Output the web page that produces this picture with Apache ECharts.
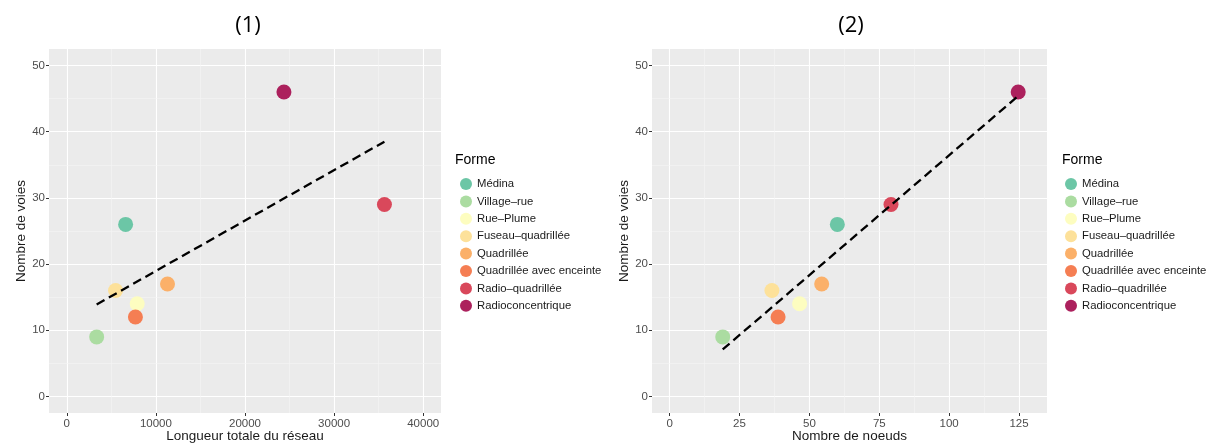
<!DOCTYPE html>
<html>
<head>
<meta charset="utf-8">
<script src="https://cdn.jsdelivr.net/npm/echarts@6/dist/echarts.min.js"></script>
<style>
html,body{margin:0;padding:0;background:#fff;}
#chart{width:1215px;height:443px;}
</style>
</head>
<body>
<div id="chart"></div>
<script>
// ---- data ----
const categories = ['Médina','Village–rue','Rue–Plume','Fuseau–quadrillée','Quadrillée','Quadrillée avec enceinte','Radio–quadrillée','Radioconcentrique'];
const colors = ['#6cc6a6','#abdca1','#fdfdc0','#fde19a','#fbb069','#f57e53','#d9485b','#ac215d'];
const longueur = [6600, 3350, 7900, 5470, 11300, 7700, 35650, 24370];
const noeuds = [60, 19, 46.5, 36.6, 54.4, 38.8, 79.2, 124.7];
const voies = [26, 9, 14, 16, 17, 12, 29, 46];
const trend1 = [[3350, 13.9], [35650, 38.5]];
const trend2 = [[19, 7.1], [124.7, 45.4]];
const xTicks1 = [0, 10000, 20000, 30000, 40000];
const xMinor1 = [5000, 15000, 25000, 35000];
const xTicks2 = [0, 25, 50, 75, 100, 125];
const xMinor2 = [12.5, 37.5, 62.5, 87.5, 112.5];
const yTicks = [0, 10, 20, 30, 40, 50];
const yMinor = [5, 15, 25, 35, 45];

const FONT = 'Liberation Sans, Arial, sans-serif';
const chart = echarts.init(document.getElementById('chart'), null, {renderer: 'canvas'});

function xAxis(idx, min, max, ticks, name, gap) {
  return {
    gridIndex: idx, type: 'value', min: min, max: max, position: 'bottom',
    name: name, nameLocation: 'middle', nameGap: gap, nameMoveOverlap: false,
    nameTextStyle: {fontFamily: FONT, fontSize: 13.5, color: '#1a1a1a'},
    axisLine: {show: false, onZero: false},
    axisTick: {show: true, length: 3, lineStyle: {color: '#333', width: 1}, customValues: ticks},
    axisLabel: {customValues: ticks, fontFamily: FONT, fontSize: 11.5, color: '#4d4d4d', margin: 5,
      formatter: v => String(v)},
    splitLine: {show: true, lineStyle: {color: '#ffffff', width: 1.1}}
  };
}
function yAxis(idx, name) {
  return {
    gridIndex: idx, type: 'value', min: -2.5, max: 52.5, position: 'left',
    name: name, nameLocation: 'middle', nameGap: 21,
    nameTextStyle: {fontFamily: FONT, fontSize: 13.5, color: '#1a1a1a'},
    axisLine: {show: false, onZero: false},
    axisTick: {show: true, length: 3, lineStyle: {color: '#333', width: 1}, customValues: yTicks},
    axisLabel: {customValues: yTicks, fontFamily: FONT, fontSize: 11.5, color: '#4d4d4d', margin: 4,
      formatter: v => String(v)},
    splitLine: {show: true, lineStyle: {color: '#ffffff', width: 1.1}}
  };
}

function minorLines(xIdx, xMinor) {
  const data = xMinor.map(v => ({xAxis: v})).concat(yMinor.map(v => ({yAxis: v})));
  return {
    type: 'line', xAxisIndex: xIdx, yAxisIndex: xIdx, data: [], silent: true, z: 1,
    markLine: {silent: true, symbol: 'none', label: {show: false}, z: 1,
      lineStyle: {color: '#f5f5f5', width: 0.6, type: 'solid'}, data: data, animation: false}
  };
}

const series = [minorLines(0, xMinor1), minorLines(1, xMinor2)];
categories.forEach((c, i) => {
  series.push({type: 'scatter', name: c, xAxisIndex: 0, yAxisIndex: 0, symbolSize: 15, z: 3,
    itemStyle: {color: colors[i], opacity: 1}, data: [[longueur[i], voies[i]]]});
  series.push({type: 'scatter', name: c, xAxisIndex: 1, yAxisIndex: 1, symbolSize: 15, z: 3,
    itemStyle: {color: colors[i], opacity: 1}, data: [[noeuds[i], voies[i]]]});
});
series.push({type: 'line', xAxisIndex: 0, yAxisIndex: 0, data: trend1, symbol: 'none', z: 5, silent: true,
  lineStyle: {color: '#000', width: 2.3, type: [9, 5]}});
series.push({type: 'line', xAxisIndex: 1, yAxisIndex: 1, data: trend2, symbol: 'none', z: 5, silent: true,
  lineStyle: {color: '#000', width: 2.3, type: [9, 5]}});

function legend(left) {
  return {
    orient: 'vertical', left: left, top: 173, itemWidth: 12, itemHeight: 12, itemGap: 5.4,
    icon: 'circle', data: categories, selectedMode: false,
    textStyle: {fontFamily: FONT, fontSize: 11.3, color: '#1a1a1a'}
  };
}

chart.setOption({
  animation: false,
  backgroundColor: '#ffffff',
  title: [
    {text: '(1)', left: 243, top: 10, textAlign: 'center', textStyle: {fontFamily: 'Open Sans, sans-serif', fontSize: 22, fontWeight: 'normal', color: '#000'}},
    {text: '(2)', left: 846, top: 10, textAlign: 'center', textStyle: {fontFamily: 'Open Sans, sans-serif', fontSize: 22, fontWeight: 'normal', color: '#000'}},
    {text: 'Forme', left: 450, top: 148, textStyle: {fontFamily: FONT, fontSize: 14, fontWeight: 'normal', color: '#000'}},
    {text: 'Forme', left: 1057, top: 148, textStyle: {fontFamily: FONT, fontSize: 14, fontWeight: 'normal', color: '#000'}}
  ],
  grid: [
    {left: 49, top: 49, width: 392, height: 364, backgroundColor: '#ebebeb', show: true, borderWidth: 0, outerBoundsMode: 'none', containLabel: false},
    {left: 652, top: 49, width: 395, height: 364, backgroundColor: '#ebebeb', show: true, borderWidth: 0, outerBoundsMode: 'none', containLabel: false}
  ],
  xAxis: [
    xAxis(0, -2000, 42000, xTicks1, 'Longueur totale du réseau', 16),
    xAxis(1, -6.3, 135, xTicks2, 'Nombre de noeuds', 16)
  ],
  yAxis: [yAxis(0, 'Nombre de voies'), yAxis(1, 'Nombre de voies')],
  legend: [legend(455), legend(1060)],
  series: series
});
</script>
</body>
</html>
